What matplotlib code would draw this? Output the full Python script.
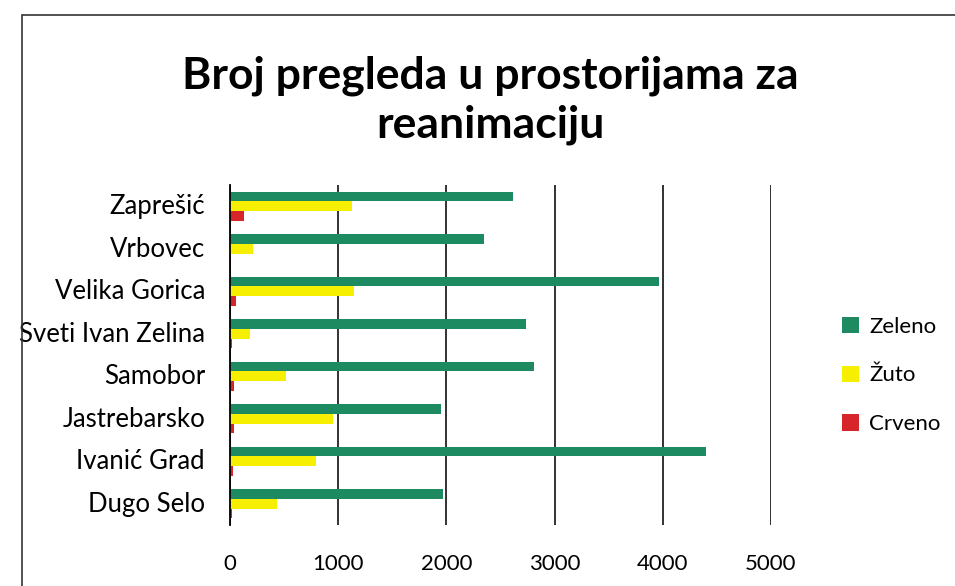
import numpy as np
import matplotlib.pyplot as plt
from matplotlib.patches import Rectangle

# Data (bottom to top, as drawn)
towns = ['Dugo Selo', 'Ivanić Grad', 'Jastrebarsko', 'Samobor',
         'Sveti Ivan Zelina', 'Velika Gorica', 'Vrbovec', 'Zaprešić']
zeleno = [1965, 4395, 1950, 2805, 2735, 3965, 2350, 2620]
zuto = [430, 795, 955, 515, 185, 1145, 210, 1125]
crveno = [20, 25, 35, 40, 20, 55, 10, 130]

plt.rcParams['font.family'] = ['Lato', 'DejaVu Sans']
plt.rcParams['font.size'] = 16

fig = plt.figure(figsize=(9.55, 5.86), dpi=100)
W, H = 955, 586
ax = fig.add_axes([230 / W, 1 - 525 / H, 541 / W, 340 / H])

y = np.arange(len(towns))
h = 0.23
ax.barh(y + h, zeleno, height=h, color='#1e8a62', label='Zeleno')
ax.barh(y, zuto, height=h, color='#f6ef00', label='Žuto')
ax.barh(y - h, crveno, height=h, color='#d7262b', label='Crveno')

ax.set_xlim(0, 5000)
ax.set_ylim(-0.5, len(towns) - 0.5)
ax.set_xticks(np.arange(0, 5001, 1000))
ax.set_yticks(y + 0.05)
ax.set_yticklabels(towns)
ax.xaxis.grid(True, color='#222222', linewidth=1.3)
ax.set_axisbelow(True)
for s in ['top', 'right', 'bottom']:
    ax.spines[s].set_visible(False)
ax.spines['left'].set_linewidth(1.3)
ax.tick_params(axis='x', length=0, pad=21, labelsize=16)
ax.tick_params(axis='y', length=0, pad=18, labelsize=18.5)

ax.legend(loc='center left', bbox_to_anchor=(1.095, 0.44), frameon=False,
          fontsize=16, handlelength=0.75, handleheight=0.75,
          labelspacing=1.3, handletextpad=0.45)

fig.text(490 / W, 1 - 100 / H, 'Broj pregleda u prostorijama za\nreanimaciju',
         ha='center', va='center', fontsize=32, fontweight='bold',
         linespacing=1.25)

# outer chart border
fig.patches.append(Rectangle((22 / W, -0.05), 1.0, 1 - 15 / H + 0.05,
                             transform=fig.transFigure, fill=False,
                             edgecolor='#333333', linewidth=1.2))

fig.savefig('out.png', dpi=100)
